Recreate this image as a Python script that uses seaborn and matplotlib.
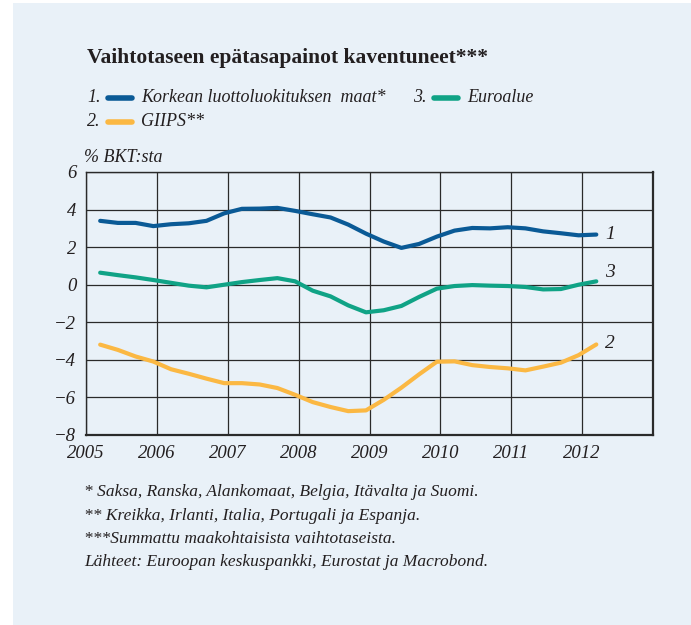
import numpy as np
import pandas as pd
import matplotlib
matplotlib.use("Agg")
import matplotlib.pyplot as plt
from matplotlib.lines import Line2D
from matplotlib.patches import Rectangle
import seaborn as sns

# --- Data (quarterly, % of GDP) ---
quarters = [2005.2 + 0.25 * i for i in range(29)]
korkea = [3.40, 3.29, 3.29, 3.12, 3.22, 3.27, 3.40, 3.80, 4.04, 4.05, 4.09, 3.93, 3.75, 3.58, 3.20,
          2.72, 2.30, 1.96, 2.17, 2.56, 2.88, 3.02, 3.00, 3.06, 3.00, 2.84, 2.74, 2.63, 2.67]
giips = [-3.19, -3.47, -3.82, -4.09, -4.50, -4.74, -5.00, -5.24, -5.24, -5.31, -5.50, -5.86, -6.25, -6.51, -6.73,
         -6.69, -6.13, -5.48, -4.77, -4.10, -4.08, -4.28, -4.38, -4.45, -4.56, -4.36, -4.15, -3.75, -3.18]
euroalue = [0.64, 0.51, 0.39, 0.25, 0.10, -0.05, -0.14, 0.00, 0.14, 0.25, 0.35, 0.18, -0.32, -0.62, -1.10,
            -1.47, -1.36, -1.13, -0.65, -0.21, -0.07, -0.02, -0.05, -0.07, -0.12, -0.25, -0.23, 0.00, 0.18]

series_names = ["Korkean luottoluokituksen  maat*", "GIIPS**", "Euroalue"]
series_numbers = ["1", "2", "3"]
colors = ["#0a5a96", "#fbb843", "#10a386"]
year_ticks = [2005, 2006, 2007, 2008, 2009, 2010, 2011, 2012]
y_ticks = [6, 4, 2, 0, -2, -4, -6, -8]

footnotes = [
    "* Saksa, Ranska, Alankomaat, Belgia, Itävalta ja Suomi.",
    "** Kreikka, Irlanti, Italia, Portugali ja Espanja.",
    "***Summattu maakohtaisista vaihtotaseista.",
    "Lähteet: Euroopan keskuspankki, Eurostat ja Macrobond.",
]

df = pd.DataFrame({
    "x": quarters * 3,
    "y": korkea + giips + euroalue,
    "sarja": [series_names[0]] * 29 + [series_names[1]] * 29 + [series_names[2]] * 29,
})

# --- Figure ---
sns.set_style("white")
plt.rcParams["font.family"] = ["Liberation Serif", "DejaVu Serif"]
plt.rcParams["axes.unicode_minus"] = True

bg = "#e9f1f8"
txt = "#231f20"
W, H = 691, 625
fig = plt.figure(figsize=(W / 100, H / 100), dpi=100, facecolor="white")
fig.patches.append(Rectangle((13 / W, 0), 1, 1 - 3 / H, transform=fig.transFigure,
                             facecolor=bg, edgecolor="none", zorder=-10))

ax = fig.add_axes([86 / W, 1 - 435 / H, (653 - 86) / W, (435 - 172) / H])
ax.set_facecolor(bg)

sns.lineplot(data=df, x="x", y="y", hue="sarja", palette=colors, hue_order=series_names,
             linewidth=3.0, legend=False, ax=ax, zorder=3)
for line in ax.get_lines():
    line.set_solid_capstyle("round")

ax.set_xlim(2005, 2013)
ax.set_ylim(-8, 6)
ax.set_xticks(year_ticks + [2013])
ax.set_xticklabels([str(y) for y in year_ticks] + [""])
ax.set_yticks(y_ticks)
ax.set_yticklabels([f"{v}".replace("-", "\u2212") for v in y_ticks])
ax.grid(True, color="#2a2a2a", linewidth=0.9)
ax.tick_params(length=0, pad=7, labelsize=13.5, colors=txt)
for lab in ax.get_xticklabels() + ax.get_yticklabels():
    lab.set_fontstyle("italic")
for s in ax.spines.values():
    s.set_color("#2a2a2a")
    s.set_linewidth(1.0)
ax.spines["bottom"].set_linewidth(1.6)
ax.spines["right"].set_linewidth(1.6)
ax.set_xlabel("")
ax.set_ylabel("")

# end labels
ends = [korkea[-1], giips[-1], euroalue[-1]]
end_offsets = [0.0, 0.05, 0.45]
for num, val, off in zip(series_numbers, ends, end_offsets):
    ax.text(quarters[-1] + 0.12, val + off, num, fontsize=14, fontstyle="italic",
            color=txt, va="center", ha="left")

# --- Title and legend ---
fig.text(87 / W, 1 - 58 / H, "Vaihtotaseen epätasapainot kaventuneet***", fontsize=15.5,
         fontweight="bold", color=txt, va="center", ha="left")

legend_pos = [(87, 98), (87, 122), (413, 98)]
for (px, py), num, name, col in zip(legend_pos, series_numbers, series_names, colors):
    fig.text(px / W, 1 - py / H, num + ".", fontsize=13, fontstyle="italic", color=txt,
             va="center", ha="left")
    fig.add_artist(Line2D([(px + 21) / W, (px + 45) / W], [1 - py / H, 1 - py / H],
                          transform=fig.transFigure, color=col, linewidth=4,
                          solid_capstyle="round"))
    fig.text((px + 54) / W, 1 - py / H, name, fontsize=13, fontstyle="italic", color=txt,
             va="center", ha="left")

fig.text(84 / W, 1 - 157 / H, "% BKT:sta", fontsize=13, fontstyle="italic", color=txt,
         va="center", ha="left")

# --- Footnotes ---
for i, note in enumerate(footnotes):
    fig.text(84 / W, 1 - (492 + 23.5 * i) / H, note, fontsize=12.5, fontstyle="italic",
             color=txt, va="center", ha="left")

fig.savefig("out.png", dpi=100, facecolor="white")
